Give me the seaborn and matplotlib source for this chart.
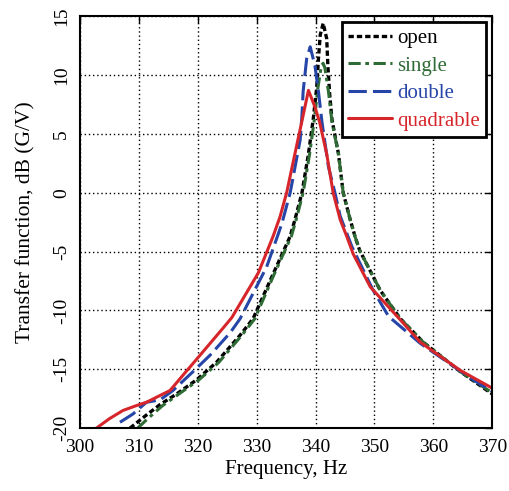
import matplotlib
matplotlib.use("Agg")
import matplotlib.pyplot as plt
import seaborn as sns
import pandas as pd
from matplotlib.ticker import MultipleLocator

open_f = [308.5, 311.0, 313.6, 316.4, 319.8, 323.2, 327.2, 329.4, 332.8, 335.7, 336.5, 337.7, 338.8, 339.6, 340.2, 340.5, 340.8, 341.3, 341.9, 342.1, 342.4, 342.8, 343.9, 344.7, 345.9, 346.7, 347.5, 351.0, 354.4, 358.3, 364.6, 370.0]
open_db = [-20.0, -19.0, -18.0, -17.1, -15.9, -14.4, -12.1, -10.7, -6.9, -3.7, -2.3, 0.0, 3.3, 6.2, 8.9, 11.4, 13.4, 14.4, 13.1, 10.8, 8.4, 6.2, 3.3, 0.0, -2.3, -3.7, -4.9, -8.3, -10.7, -12.7, -15.2, -17.1]

single_f = [309.8, 311.5, 314.0, 316.8, 320.2, 323.6, 327.5, 329.7, 333.0, 335.9, 336.7, 337.9, 339.0, 339.8, 340.4, 341.0, 341.3, 341.6, 342.2, 342.8, 343.9, 344.7, 345.9, 346.7, 347.5, 351.0, 354.4, 358.3, 364.6, 370.0]
single_db = [-20.0, -19.2, -18.1, -17.1, -15.9, -14.4, -12.1, -10.7, -6.9, -3.7, -2.3, 0.0, 3.3, 6.2, 8.9, 10.8, 11.0, 10.6, 8.6, 6.0, 3.3, 0.0, -2.3, -3.7, -4.9, -8.3, -10.7, -12.7, -15.2, -17.0]

double_f = [306.8, 309.0, 311.3, 313.6, 315.8, 319.2, 322.1, 325.5, 327.2, 331.7, 333.4, 334.3, 335.7, 337.4, 337.7, 337.9, 338.5, 339.1, 339.9, 340.5, 341.1, 342.2, 343.3, 344.2, 346.2, 349.8, 352.4, 357.8, 366.8, 370.0]
double_db = [-19.5, -18.8, -17.8, -17.6, -16.8, -15.2, -13.8, -11.9, -10.7, -6.3, -3.9, -2.6, 0.0, 4.5, 6.6, 8.6, 11.4, 12.4, 10.8, 8.6, 6.0, 2.2, 0.0, -2.0, -4.6, -8.3, -10.5, -12.8, -15.9, -16.9]

quad_f = [302.8, 305.0, 307.3, 309.5, 311.3, 313.3, 315.3, 317.5, 320.4, 324.3, 325.8, 330.3, 332.8, 334.0, 335.1, 336.5, 337.7, 338.8, 339.9, 340.7, 341.9, 343.0, 344.2, 345.3, 346.4, 349.3, 354.4, 357.8, 364.6, 370.0]
quad_db = [-20.0, -19.2, -18.5, -18.1, -17.8, -17.3, -16.8, -15.5, -13.8, -11.5, -10.6, -6.8, -3.7, -2.0, 0.0, 3.3, 6.1, 8.7, 7.3, 6.0, 3.3, 0.0, -2.3, -3.7, -5.2, -8.0, -10.8, -12.7, -15.1, -16.6]

series = ["open", "single", "double", "quadrable"]
colors = ["#000000", "#2f6b35", "#2546a8", "#d7262b"]
dashes = [(1.6, 0.9), (4, 1.5, 1.2, 1.5), (6, 2), ""]
widths = [2.4, 2.2, 2.2, 2.2]
data_f = [open_f, single_f, double_f, quad_f]
data_db = [open_db, single_db, double_db, quad_db]

sns.set_theme(style="white")
plt.rcParams['font.family'] = ['Liberation Serif', 'DejaVu Serif']
plt.rcParams['axes.unicode_minus'] = False

fig = plt.figure(figsize=(5.09, 4.91), dpi=100)
ax = fig.add_axes([0.157, 0.128, 0.810, 0.839])

for name, c, d, w, f, db in zip(series, colors, dashes, widths, data_f, data_db):
    df = pd.DataFrame({"f": f, "db": db})
    sns.lineplot(data=df, x="f", y="db", sort=False, estimator=None,
                 color=c, lw=w, label=name, ax=ax)
    l = ax.get_lines()[-1]
    if d:
        l.set_dashes(d)

ax.set_xlim(300, 370)
ax.set_ylim(-20, 15)
ax.xaxis.set_major_locator(MultipleLocator(10))
ax.yaxis.set_major_locator(MultipleLocator(5))
ax.grid(True, color="black", linestyle=(0, (1, 2)), linewidth=1)
for s in ax.spines.values():
    s.set_color("black")
    s.set_linewidth(1.5)
ax.tick_params(direction="in", top=True, right=True, length=5, width=1,
               labelsize=14, colors="black")
ax.tick_params(axis="y", pad=7)
ax.tick_params(axis="x", pad=8)
for lab in ax.get_yticklabels():
    lab.set_rotation(90)
    lab.set_va("center")
ax.set_xlabel("Frequency, Hz", fontsize=15, color="black", labelpad=3)
ax.set_ylabel("Transfer function, dB (G/V)", fontsize=15.5, color="black", labelpad=13)

leg = ax.legend(loc="upper right", fontsize=15, frameon=True, fancybox=False,
                edgecolor="black", labelcolor="linecolor", handlelength=2.1,
                borderpad=0.3, labelspacing=0.38, handletextpad=0.25,
                borderaxespad=0.3)
leg.get_frame().set_linewidth(2)
leg.get_frame().set_alpha(1)

fig.savefig("out.png", dpi=100)
